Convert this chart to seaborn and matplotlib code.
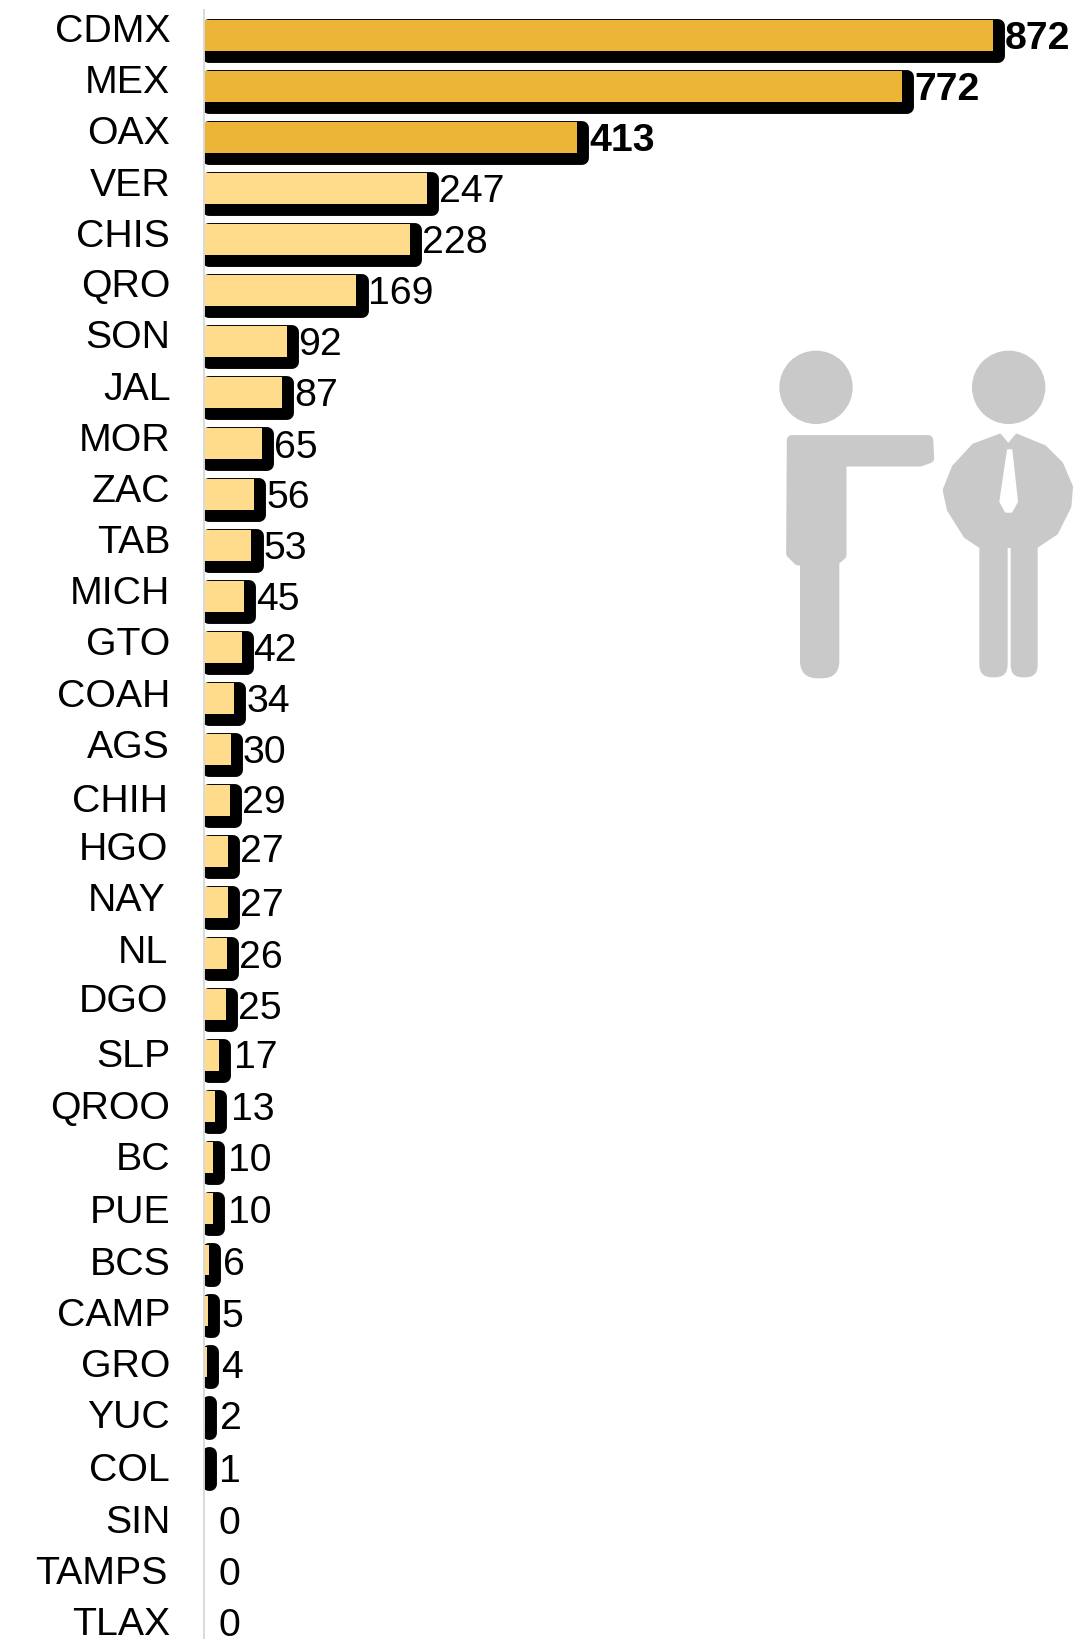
import matplotlib
matplotlib.use('Agg')
import matplotlib.pyplot as plt
import matplotlib.patheffects as pe
from matplotlib.patches import Circle, FancyBboxPatch, Polygon
from matplotlib.transforms import ScaledTranslation
import pandas as pd
import seaborn as sns

# datos
estados = ['CDMX', 'MEX', 'OAX', 'VER', 'CHIS', 'QRO', 'SON', 'JAL', 'MOR', 'ZAC', 'TAB',
           'MICH', 'GTO', 'COAH', 'AGS', 'CHIH', 'HGO', 'NAY', 'NL', 'DGO', 'SLP', 'QROO',
           'BC', 'PUE', 'BCS', 'CAMP', 'GRO', 'YUC', 'COL', 'SIN', 'TAMPS', 'TLAX']
valores = [872, 772, 413, 247, 228, 169, 92, 87, 65, 56, 53, 45, 42, 34, 30, 29,
           27, 27, 26, 25, 17, 13, 10, 10, 6, 5, 4, 2, 1, 0, 0, 0]
grupo = ['alto'] * 3 + ['resto'] * 29

# small hand placed shifts of the labels, in pixels
tick_dy = [-8, -8, -8, -7, -7, -8, -8, -7, -7, -7, -7, -7, -7, -6, -6, -3,
           -6, -6, -5, -7, -3, -2, -2, 0, 1, 1, 1, 1, 3, 4, 4, 4]
tick_dx = {'JAL': 1, 'CHIH': -2, 'HGO': -2, 'NAY': -5, 'NL': -2, 'DGO': -2, 'TAMPS': -3}
valor_dy = [0, 0, 0, 0, 0, 0, 0, 0, 1, 0, 0, 0, 0, 0, 0, -1,
            -3, 0, 1, 1, -1, 0, 0, 1, 2, 3, 3, 3, 5, 6, 6, 6]
valor_dx = {17: 3, 13: 4, 10: 4, 6: 2, 5: 2, 4: 2, 2: 3, 1: 3}

W, H = 1087, 1639
X0 = 203.5
GRIS = '#c9c9c9'

sns.set_theme(style='white')
plt.rcParams['font.family'] = ['Liberation Sans', 'DejaVu Sans']

df = pd.DataFrame({'estado': estados, 'valor': valores, 'grupo': grupo})

fig = plt.figure(figsize=(W / 100, H / 100), dpi=100)
ax = fig.add_axes([X0 / W, 0, 1 - X0 / W, 1 - 10 / H])
ax.patch.set_alpha(0)
sns.barplot(data=df, y='estado', x='valor', hue='grupo', dodge=False, width=0.59,
            palette={'alto': '#ecb537', 'resto': '#fedc8c'}, saturation=1,
            legend=False, linewidth=0, ax=ax)
ax.set_xlim(0, (W - X0) / 0.905)
ax.set_ylim(31.44, -0.5)
ax.set_xlabel('')
ax.set_ylabel('')
ax.set_xticks([])

for s in ['top', 'right', 'bottom']:
    ax.spines[s].set_visible(False)
ax.spines['left'].set_color('#d9d9d9')
ax.spines['left'].set_linewidth(1.4)

# sombra negra redondeada
sombra = [pe.Stroke(linewidth=10, foreground='black', joinstyle='round', offset=(3.7, -3.7)),
          pe.SimplePatchShadow(offset=(3.7, -3.7), shadow_rgbFace='black', alpha=1),
          pe.Normal()]
for cont in ax.containers:
    for bar in cont:
        if bar.get_width() > 0:
            bar.set_path_effects(sombra)

ax.tick_params(axis='y', length=0, pad=24)
ax.set_yticks(range(len(estados)))
ax.set_yticklabels(estados, fontsize=28.3, color='black')
for lab, dy, nombre in zip(ax.get_yticklabels(), tick_dy, estados):
    dx = tick_dx.get(nombre, 0)
    lab.set_transform(lab.get_transform() + ScaledTranslation(dx / 100, -dy / 100, fig.dpi_scale_trans))

for i, v in enumerate(valores):
    dx = 8.5 if v > 0 else 10.5
    dx += valor_dx.get(v, 0) * 0.72
    ax.annotate(str(v), (v, i), xytext=(dx, -valor_dy[i] * 0.72 - 2.4),
                textcoords='offset points', va='center', ha='left', fontsize=28.3,
                color='black', fontweight='bold' if grupo[i] == 'alto' else 'normal')

# iconos de las dos personas, en pixeles de la figura
deco = fig.add_axes([0, 0, 1, 1], zorder=-1)
deco.set_xlim(0, W)
deco.set_ylim(H, 0)
deco.axis('off')


def z(x, y):
    return 740 + x / 3, 330 + y / 3


def poly(puntos, color=GRIS, lw=3):
    deco.add_patch(Polygon([z(*p) for p in puntos], closed=True, facecolor=color, edgecolor=color,
                           linewidth=lw, joinstyle='round'))


def pierna(x1, x2, y1, y2):
    a = z(x1, y1)
    b = z(x2, y2)
    r = (b[0] - a[0]) * 0.45
    deco.add_patch(FancyBboxPatch((a[0] + r, a[1] + r), b[0] - a[0] - 2 * r, b[1] - a[1] - 2 * r,
                                  boxstyle=f'round,pad={r}', facecolor=GRIS, edgecolor='none'))


deco.add_patch(Circle(z(228, 172), 36.7, facecolor=GRIS, edgecolor='none'))
deco.add_patch(Circle(z(806, 172), 36.7, facecolor=GRIS, edgecolor='none'))

# persona izquierda
poly([(155, 330), (565, 330), (568, 385), (540, 395), (305, 395), (305, 675), (285, 692),
      (175, 692), (153, 670)], lw=7)
pierna(180, 298, 640, 1045)

# persona derecha
poly([(780, 315), (805, 345), (830, 315), (915, 350), (965, 400), (995, 470), (990, 530),
      (950, 610), (890, 650), (720, 650), (675, 620), (625, 540), (612, 480), (640, 410),
      (700, 345)], lw=2)
pierna(718, 803, 620, 1042)
pierna(812, 893, 620, 1042)
poly([(803, 360), (815, 360), (832, 515), (815, 546), (797, 546), (780, 515)], color='white', lw=1)

fig.savefig('out.png', dpi=100)
